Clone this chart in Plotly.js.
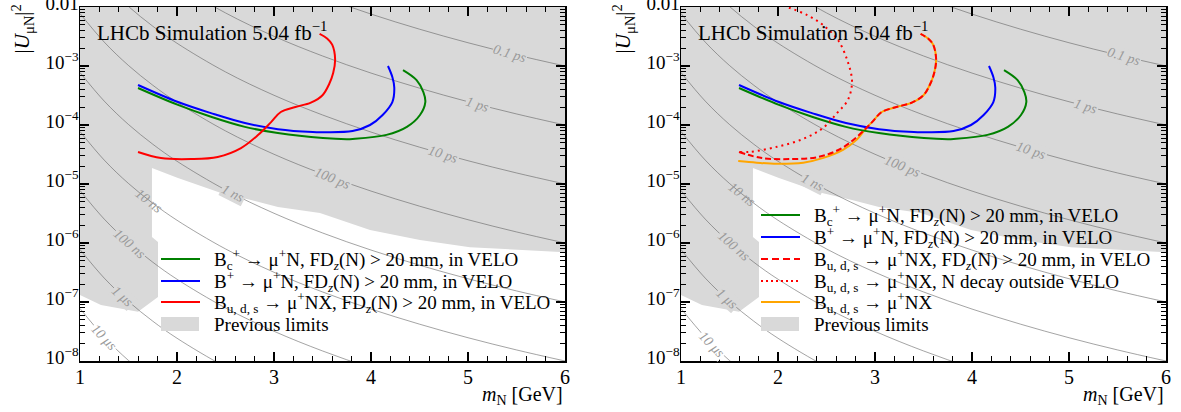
<!DOCTYPE html>
<html><head><meta charset="utf-8">
<script src="https://cdn.plot.ly/plotly-3.0.1.min.js"></script>
<style>html,body{margin:0;padding:0;background:#fff}#chart{width:1181px;height:412px}</style>
</head><body><div id="chart"></div>
<script>
// ---------- data ----------
const contourMass = [1, 1.25, 1.5, 1.75, 2, 2.5, 3, 3.5, 4, 4.5, 5, 5.5, 6];
const tau01ps  = [7.76e0, 2.54e0, 1.02e0, 4.73e-1, 2.43e-1, 7.94e-2, 3.19e-2, 1.48e-2, 7.59e-3, 4.21e-3, 2.48e-3, 1.54e-3, 1.00e-3];
const tau1ps   = [7.76e-1, 2.54e-1, 1.02e-1, 4.73e-2, 2.43e-2, 7.94e-3, 3.19e-3, 1.48e-3, 7.59e-4, 4.21e-4, 2.48e-4, 1.54e-4, 1.00e-4];
const tau10ps  = [7.76e-2, 2.54e-2, 1.02e-2, 4.73e-3, 2.43e-3, 7.94e-4, 3.19e-4, 1.48e-4, 7.59e-5, 4.21e-5, 2.48e-5, 1.54e-5, 1.00e-5];
const tau100ps = [7.76e-3, 2.54e-3, 1.02e-3, 4.73e-4, 2.43e-4, 7.94e-5, 3.19e-5, 1.48e-5, 7.59e-6, 4.21e-6, 2.48e-6, 1.54e-6, 1.00e-6];
const tau1ns   = [7.76e-4, 2.54e-4, 1.02e-4, 4.73e-5, 2.43e-5, 7.94e-6, 3.19e-6, 1.48e-6, 7.59e-7, 4.21e-7, 2.48e-7, 1.54e-7, 1.00e-7];
const tau10ns  = [7.76e-5, 2.54e-5, 1.02e-5, 4.73e-6, 2.43e-6, 7.94e-7, 3.19e-7, 1.48e-7, 7.59e-8, 4.21e-8, 2.48e-8, 1.54e-8, 1.00e-8];
const tau100ns = [7.76e-6, 2.54e-6, 1.02e-6, 4.73e-7, 2.43e-7, 7.94e-8, 3.19e-8, 1.48e-8, 7.59e-9, 4.21e-9, 2.48e-9, 1.54e-9, 1.00e-9];
const tau1us   = [7.76e-7, 2.54e-7, 1.02e-7, 4.73e-8, 2.43e-8, 7.94e-9, 3.19e-9, 1.48e-9, 7.59e-10, 4.21e-10, 2.48e-10, 1.54e-10, 1.00e-10];
const tau10us  = [7.76e-8, 2.54e-8, 1.02e-8, 4.73e-9, 2.43e-9, 7.94e-10, 3.19e-10, 1.48e-10, 7.59e-11, 4.21e-11, 2.48e-11, 1.54e-11, 1.00e-11];
const contourLabels = ['0.1 ps', '1 ps', '10 ps', '100 ps', '1 ns', '10 ns', '100 ns', '1 μs', '10 μs'];

const prevMass = [1, 6, 6, 5.536, 5.02, 4.505, 3.99, 3.474, 3.041, 2.763, 2.454, 2.01, 1.876, 1.742, 1.742, 1.804, 1.804, 1.598, 1.216, 1];
const prevU2   = [1e-2, 1e-2, 7.0e-7, 7.6e-7, 8.5e-7, 1.12e-6, 1.66e-6, 3.24e-6, 4.07e-6, 5.37e-6, 7.03e-6, 1.26e-5, 1.55e-5, 1.87e-5, 1.26e-6, 1.04e-6, 1.22e-7, 6.8e-8, 8.9e-8, 1.32e-7];

const bcMass = [1.598, 2.01, 2.35, 2.70, 3.04, 3.505, 3.75, 3.81, 4.16, 4.37, 4.505, 4.56, 4.54, 4.47, 4.33];
const bcU2   = [4.24e-4, 2.19e-4, 1.38e-4, 9.3e-5, 7.3e-5, 6.0e-5, 5.75e-5, 5.8e-5, 6.8e-5, 9.3e-5, 1.48e-4, 2.45e-4, 3.6e-4, 5.75e-4, 8.5e-4];

const buMass = [1.598, 2.01, 2.35, 2.70, 3.04, 3.40, 3.505, 3.81, 3.99, 4.12, 4.22, 4.24, 4.22, 4.175];
const buU2   = [4.76e-4, 2.45e-4, 1.59e-4, 1.08e-4, 8.5e-5, 7.6e-5, 7.55e-5, 7.9e-5, 1.0e-4, 1.48e-4, 2.45e-4, 4.3e-4, 6.5e-4, 1.0e-3];

const budsMass = [1.598, 1.835, 2.144, 2.42, 2.66, 2.835, 2.97, 3.07, 3.22, 3.38, 3.50, 3.57, 3.61, 3.63, 3.60, 3.55, 3.47];
const budsU2   = [3.48e-5, 2.75e-5, 2.65e-5, 2.88e-5, 4.07e-5, 6.76e-5, 1.12e-4, 1.66e-4, 2.02e-4, 2.4e-4, 3.2e-4, 5.0e-4, 7.6e-4, 1.3e-3, 2.3e-3, 2.9e-3, 3.5e-3];

const budsOutMass = [1.608, 1.71, 1.99, 2.258, 2.464, 2.608, 2.72, 2.763, 2.72, 2.619, 2.464, 2.30, 2.124, 2.09];
const budsOutU2   = [3.48e-5, 3.5e-5, 4.27e-5, 5.8e-5, 8.9e-5, 1.59e-4, 2.65e-4, 5.4e-4, 1.17e-3, 2.75e-3, 4.95e-3, 7.3e-3, 9.6e-3, 1.0e-2];

const budsAllMass = [1.59, 1.78, 1.99, 2.26, 2.46, 2.67, 2.81, 2.9, 2.97, 3.07, 3.22, 3.38, 3.50, 3.57, 3.61, 3.63, 3.60, 3.55, 3.47];
const budsAllU2   = [2.45e-5, 2.3e-5, 2.2e-5, 2.3e-5, 2.75e-5, 3.8e-5, 5.6e-5, 8.5e-5, 1.12e-4, 1.66e-4, 2.02e-4, 2.4e-4, 3.2e-4, 5.0e-4, 7.6e-4, 1.3e-3, 2.3e-3, 2.9e-3, 3.5e-3];

// label anchor points along the contours
const labelMassL = [5.43, 5.10, 4.75, 3.61, 2.58, 1.72, 1.52, 1.44, 1.25];
const labelU2L   = [1.64e-3, 2.25e-4, 3.21e-5, 1.26e-5, 6.79e-6, 5.15e-6, 9.57e-7, 1.25e-7, 2.54e-8];
const labelMassR = [5.57, 5.18, 4.61, 3.29, 2.36, 1.63, 1.55, 1.47, 1.32];
const labelU2R   = [1.45e-3, 2.08e-4, 3.73e-5, 2.01e-5, 1.06e-5, 6.75e-6, 8.67e-7, 1.13e-7, 1.94e-8];
const labelAngle = [17, 17, 18, 22, 27, 38, 41, 42, 46];
const labelBg = ['gray', 'gray', 'gray', 'gray', 'gray', 'none', 'gray', 'gray', 'white'];

const yTickVals = [1e-8, 1e-7, 1e-6, 1e-5, 1e-4, 1e-3, 1e-2];
const yTickText = ['10<sup>−8</sup>', '10<sup>−7</sup>', '10<sup>−6</sup>', '10<sup>−5</sup>', '10<sup>−4</sup>', '10<sup>−3</sup>', '0.01'];

const FDZ = 'FD<i><sub>z</sub></i>(N) > 20 mm, in VELO';
const legendLeft = [
  'B<sub>c</sub><sup>+</sup> → μ<sup>+</sup>N, ' + FDZ,
  'B<sup>+</sup> → μ<sup>+</sup>N, ' + FDZ,
  'B<sub>u, d, s</sub> → μ<sup>+</sup>NX, ' + FDZ,
  'Previous limits'];
const legendRight = [
  'B<sub>c</sub><sup>+</sup> → μ<sup>+</sup>N, ' + FDZ,
  'B<sup>+</sup> → μ<sup>+</sup>N, ' + FDZ,
  'B<sub>u, d, s</sub> → μ<sup>+</sup>NX, ' + FDZ,
  'B<sub>u, d, s</sub> → μ<sup>+</sup>NX, N decay outside VELO',
  'B<sub>u, d, s</sub> → μ<sup>+</sup>NX',
  'Previous limits'];

// ---------- styling ----------
const SERIF = 'Liberation Serif';
const GRAY = '#d9d9d9';
const W = 1181, H = 412;
const contours = [tau01ps, tau1ps, tau10ps, tau100ps, tau1ns, tau10ns, tau100ns, tau1us, tau10us];

const traces = [];
function addPanel(xa, ya, right) {
  traces.push({x: prevMass, y: prevU2, xaxis: xa, yaxis: ya, type: 'scatter', mode: 'lines',
    fill: 'toself', fillcolor: GRAY, line: {width: 0, color: GRAY}, name: 'Previous limits', showlegend: false, hoverinfo: 'skip'});
  contours.forEach(c => traces.push({x: contourMass, y: c, xaxis: xa, yaxis: ya, type: 'scatter', mode: 'lines',
    line: {color: 'rgba(90,90,90,0.55)', width: 1, shape: 'spline', smoothing: 1}, showlegend: false, hoverinfo: 'skip'}));
  if (right) {
    traces.push({x: budsAllMass, y: budsAllU2, xaxis: xa, yaxis: ya, mode: 'lines', type: 'scatter',
      line: {color: '#ffa500', width: 2, shape: 'spline'}, showlegend: false});
  }
  traces.push({x: bcMass, y: bcU2, xaxis: xa, yaxis: ya, mode: 'lines', type: 'scatter',
    line: {color: '#008000', width: 2, shape: 'spline'}, showlegend: false});
  traces.push({x: buMass, y: buU2, xaxis: xa, yaxis: ya, mode: 'lines', type: 'scatter',
    line: {color: '#0000ff', width: 2, shape: 'spline'}, showlegend: false});
  traces.push({x: budsMass, y: budsU2, xaxis: xa, yaxis: ya, mode: 'lines', type: 'scatter',
    line: {color: '#ff0000', width: 2, shape: 'spline', dash: right ? '6px,3px' : 'solid'}, showlegend: false});
  if (right) {
    traces.push({x: budsOutMass, y: budsOutU2, xaxis: xa, yaxis: ya, mode: 'lines', type: 'scatter',
      line: {color: '#ff0000', width: 2, shape: 'spline', dash: '2px,4px'}, showlegend: false});
  }
}
addPanel('x', 'y', false);
addPanel('x2', 'y2', true);

const minorY = [];
for (let e = -8; e < -2; e++) for (let d = 2; d <= 9; d++) minorY.push(d * Math.pow(10, e));

function xaxisCfg(domain, anchor) {
  return {domain: domain, anchor: anchor, range: [1, 6], tickmode: 'linear', tick0: 1, dtick: 1,
    ticks: 'inside', ticklen: 9, tickwidth: 1.2, tickcolor: '#000', showline: true, linecolor: '#000', linewidth: 1.5,
    mirror: 'allticks', showgrid: false, zeroline: false, ticklabeloverflow: 'allow', ticklabelstandoff: -3,
    minor: {ticks: 'inside', ticklen: 5, tickwidth: 1, tickcolor: '#000', dtick: 0.2, tick0: 1, showgrid: false},
    tickfont: {family: SERIF, size: 20, color: '#000'}};
}
function yaxisCfg(anchor) {
  return {domain: [1 - 361 / H, 1 - 7 / H], anchor: anchor, type: 'log', range: [-8.0002, -1.9998], tickmode: 'array', tickvals: yTickVals, ticktext: yTickText,
    ticks: 'inside', ticklen: 9, tickwidth: 1.2, tickcolor: '#000', showline: true, linecolor: '#000', linewidth: 1.5,
    mirror: 'allticks', showgrid: false, zeroline: false, ticklabeloverflow: 'allow', ticklabelstandoff: -4, ticklabelshift: -4,
    minor: {ticks: 'inside', ticklen: 5, tickwidth: 1, tickcolor: '#000', tickmode: 'array', tickvals: minorY, showgrid: false},
    tickfont: {family: SERIF, size: 19, color: '#000'}};
}

const annotations = [];
const shapes = [];
function addLabels(xr, yr, masses, u2s) {
  contourLabels.forEach((t, i) => annotations.push({x: masses[i], y: Math.log10(u2s[i]), xref: xr, yref: yr,
    text: '<i>' + t + '</i>', showarrow: false, textangle: labelAngle[i],
    font: {family: SERIF, size: 14, color: '#9a9a9a'},
    bgcolor: labelBg[i] === 'gray' ? GRAY : (labelBg[i] === 'white' ? '#ffffff' : 'rgba(0,0,0,0)'), borderpad: 0}));
}
addLabels('x', 'y', labelMassL, labelU2L);
addLabels('x2', 'y2', labelMassR, labelU2R);

[[95, 22, 565], [696, 623, 1166]].forEach(([lx, ty, rx]) => {
  annotations.push({xref: 'paper', yref: 'paper', x: lx / W, y: 1 - 16 / H, xanchor: 'left', yanchor: 'top',
    width: 300, align: 'left',
    text: 'LHCb Simulation 5.04 fb<sup>−1</sup>', showarrow: false, font: {family: SERIF, size: 21, color: '#000'}});
  annotations.push({xref: 'paper', yref: 'paper', x: ty / W, y: 1 - 3 / H, xanchor: 'center', yanchor: 'top',
    text: '|<i>U</i><sub>μN</sub>|<sup>2</sup>', textangle: -90, showarrow: false, font: {family: SERIF, size: 21, color: '#000'}});
  annotations.push({xref: 'paper', yref: 'paper', x: rx / W, y: 1 - 410 / H, xanchor: 'right', yanchor: 'bottom',
    text: '<i>m</i><sub>N</sub> [GeV]', showarrow: false, font: {family: SERIF, size: 20, color: '#000'}});
});

// manual legends
function addLegend(x0, rows, texts, styles) {
  texts.forEach((t, i) => {
    const yc = rows[i];
    const st = styles[i];
    if (st.patch) {
      shapes.push({type: 'rect', xref: 'paper', yref: 'paper', x0: x0 / W, x1: (x0 + 38) / W,
        y0: 1 - (yc - 7) / H, y1: 1 - (yc + 7) / H, fillcolor: GRAY, line: {width: 0}});
    } else {
      shapes.push({type: 'line', xref: 'paper', yref: 'paper', x0: x0 / W, x1: (x0 + 39) / W,
        y0: 1 - yc / H, y1: 1 - yc / H, line: {color: st.color, width: 2, dash: st.dash || 'solid'}});
    }
    annotations.push({xref: 'paper', yref: 'paper', x: (x0 + 52) / W, y: 1 - yc / H, xanchor: 'left', yanchor: 'middle',
      width: 420, align: 'left', borderpad: 0,
      text: t, showarrow: false, font: {family: SERIF, size: 19, color: '#000'}});
  });
}
addLegend(161, [259, 281, 302, 324], legendLeft,
  [{color: '#008000'}, {color: '#0000ff'}, {color: '#ff0000'}, {patch: true}]);
addLegend(761, [215, 237, 259, 281, 302, 324], legendRight,
  [{color: '#008000'}, {color: '#0000ff'}, {color: '#ff0000', dash: '7px,4px'}, {color: '#ff0000', dash: '2px,3px'}, {color: '#ffa500'}, {patch: true}]);

const layout = {
  width: W, height: H, margin: {l: 0, r: 0, t: 0, b: 0},
  paper_bgcolor: '#fff', plot_bgcolor: '#fff', showlegend: false,
  font: {family: SERIF},
  xaxis: xaxisCfg([80 / W, 565 / W], 'y'),
  yaxis: yaxisCfg('x'),
  xaxis2: xaxisCfg([681 / W, 1166 / W], 'y2'),
  yaxis2: yaxisCfg('x2'),
  annotations: annotations,
  shapes: shapes
};

Plotly.newPlot('chart', traces, layout, {staticPlot: true, displayModeBar: false});
</script></body></html>
